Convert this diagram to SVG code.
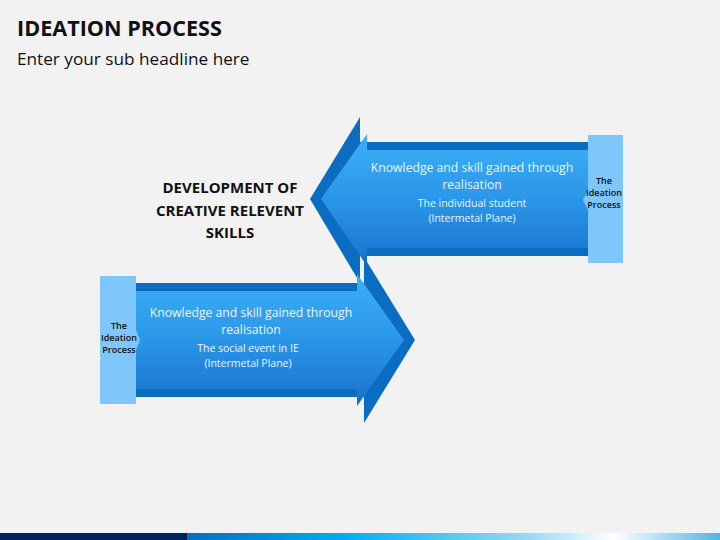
<svg xmlns="http://www.w3.org/2000/svg" width="720" height="540" viewBox="0 0 720 540">
<style>
.t{font-family:"Open Sans","Liberation Sans",sans-serif}
.head{font-weight:bold;font-size:21.6px;fill:#111}
.sub{font-size:17.2px;fill:#111}
.big{font-size:12.2px;fill:#eaf5ff;text-anchor:middle}
.small{font-size:10.5px;fill:#eaf5ff;text-anchor:middle}
.box{fill:#7fc7fb}
.boxt{font-size:9px;font-weight:600;fill:#111;text-anchor:middle}
.rim{fill:#0a6dc2}
.mid{font-weight:bold;font-size:15px;fill:#111;text-anchor:middle}
</style>
<defs>
<linearGradient id="g1" x1="0" y1="0" x2="0" y2="1">
<stop offset="0" stop-color="#3cb0f6"/>
<stop offset="0.5" stop-color="#2a96e8"/>
<stop offset="0.9" stop-color="#1c78d2"/>
<stop offset="1" stop-color="#1565bd"/>
</linearGradient>
<linearGradient id="bar" x1="187" y1="0" x2="720" y2="0" gradientUnits="userSpaceOnUse">
<stop offset="0" stop-color="#0070c0"/>
<stop offset="0.3" stop-color="#00b0f0"/>
<stop offset="0.65" stop-color="#9adcf5"/>
<stop offset="0.8" stop-color="#ffffff"/>
<stop offset="1" stop-color="#4fb5e8"/>
</linearGradient>
</defs>
<rect width="720" height="540" fill="#f2f2f2"/>
<text class="t head" x="17" y="36">IDEATION PROCESS</text>
<text class="t sub" x="17" y="65">Enter your sub headline here</text>

<g id="connectors">
<g id="arrow-top">
<polygon class="rim" points="588,142 360,142 360,117 310,199 360,283 360,256 588,256"/>
<polygon fill="url(#g1)" points="588,150 367,150 367,134 321,199 367,266 367,248 588,248"/>
</g>
<g id="arrow-bottom">
<polygon class="rim" points="136,283 364,283 364,257 415,340 364,423 364,397 136,397"/>
<polygon fill="url(#g1)" points="136,291 357,291 357,274 404,340 357,406 357,389 136,389"/>
</g>
</g>

<g id="node-top-text">
<text class="t big" x="472" y="172">Knowledge and skill gained through</text>
<text class="t big" x="472" y="189">realisation</text>
<text class="t small" x="472" y="207">The individual student</text>
<text class="t small" x="472" y="222">(Intermetal Plane)</text>
</g>
<g id="node-bottom-text">
<text class="t big" x="251" y="317">Knowledge and skill gained through</text>
<text class="t big" x="251" y="334">realisation</text>
<text class="t small" x="248" y="352">The social event in IE</text>
<text class="t small" x="248" y="367">(Intermetal Plane)</text>
</g>

<g id="box-top">
<polygon class="box" points="588,135 623,135 623,263 588,263 588,210 583,200 588,190"/>
<text class="t boxt" x="604" y="184">The</text>
<text class="t boxt" x="604" y="196">Ideation</text>
<text class="t boxt" x="604" y="208">Process</text>
</g>
<g id="box-bottom">
<polygon class="box" points="100,276 136,276 136,330 140,340 136,350 136,404 100,404"/>
<text class="t boxt" x="119" y="329">The</text>
<text class="t boxt" x="119" y="341">Ideation</text>
<text class="t boxt" x="119" y="353">Process</text>
</g>

<g id="label">
<text class="t mid" x="230" y="193">DEVELOPMENT OF</text>
<text class="t mid" x="230" y="216">CREATIVE RELEVENT</text>
<text class="t mid" x="230" y="238">SKILLS</text>
</g>

<rect x="0" y="533" width="187" height="7" fill="#002060"/>
<rect x="187" y="533" width="533" height="7" fill="url(#bar)"/>
</svg>
